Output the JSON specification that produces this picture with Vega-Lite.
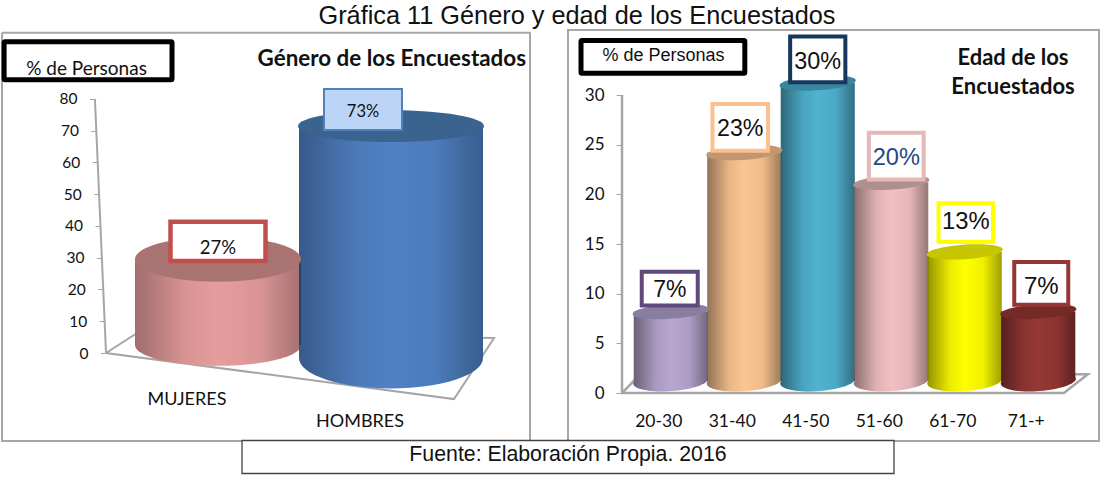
{"$schema":"https://vega.github.io/schema/vega-lite/v6.json","background":"white","padding":{"left":-2,"top":3,"right":0,"bottom":0},"spacing":-8,"title":{"text":"Gráfica 11 Género y edad de los Encuestados","font":"Liberation Sans","fontSize":25.3,"fontWeight":"normal","color":"#111","anchor":"middle","dx":28,"offset":0},"config":{"view":{"stroke":null},"axis":{"grid":false}},"datasets":{"genero":[{"genero":"MUJERES","valor":27,"etiqueta":"27%","cajaMin":29,"cajaMax":41.3,"textoY":33},{"genero":"HOMBRES","valor":73,"etiqueta":"73%","cajaMin":70.2,"cajaMax":83.1,"textoY":75.9}],"edad":[{"rango":"20-30","valor":7,"etiqueta":"7%","cajaMin":8.8,"cajaMax":12.2,"textoY":10.4},{"rango":"31-40","valor":23,"etiqueta":"23%","cajaMin":24.4,"cajaMax":29.1,"textoY":26.6},{"rango":"41-50","valor":30,"etiqueta":"30%","cajaMin":31.3,"cajaMax":35.9,"textoY":33.3},{"rango":"51-60","valor":20,"etiqueta":"20%","cajaMin":21.5,"cajaMax":26.2,"textoY":23.7},{"rango":"61-70","valor":13,"etiqueta":"13%","cajaMin":15.2,"cajaMax":19.1,"textoY":17.2},{"rango":"71-+","valor":7,"etiqueta":"7%","cajaMin":8.9,"cajaMax":13.2,"textoY":10.7}],"trazoGenero":[{"grupo":"marco","o":1,"u":0,"v":100.8},{"grupo":"marco","o":2,"u":100,"v":100.8},{"grupo":"marco","o":3,"u":100,"v":-27.7},{"grupo":"marco","o":4,"u":0,"v":-27.7},{"grupo":"marco","o":5,"u":0,"v":100.8},{"grupo":"suelo","o":1,"u":17.6,"v":80},{"grupo":"suelo","o":2,"u":19.7,"v":0},{"grupo":"suelo","o":3,"u":85.6,"v":-14.5},{"grupo":"suelo","o":4,"u":93.2,"v":4.7},{"grupo":"suelo","o":5,"u":25.6,"v":6.3},{"grupo":"suelo","o":6,"u":19.7,"v":0}],"trazoEdad":[{"grupo":"suelo","o":1,"u":10.17,"v":30},{"grupo":"suelo","o":2,"u":10.17,"v":0},{"grupo":"suelo","o":3,"u":93.4,"v":0},{"grupo":"suelo","o":4,"u":97.9,"v":1.9},{"grupo":"suelo","o":5,"u":13.6,"v":1.9},{"grupo":"suelo","o":6,"u":10.17,"v":0}],"rotuloGenero":[{"u":0.4,"u2":32.2,"v":98,"v2":86}],"rotuloEdad":[{"u":2.45,"u2":33.3,"v":35.5,"v2":32.2}],"fuente":[{"texto":"Fuente: Elaboración Propia. 2016"}]},"vconcat":[{"hconcat":[{"width":528,"height":411,"title":{"text":"Género de los Encuestados","anchor":"end","font":"Lato","fontSize":22.4,"fontWeight":"bold","color":"#111","dx":-8,"offset":-42},"resolve":{"scale":{"x":"independent"}},"layer":[{"data":{"name":"trazoGenero"},"mark":{"type":"line","color":"#a6a6a6","strokeWidth":2},"encoding":{"x":{"field":"u","type":"quantitative","axis":null,"scale":{"domain":[0,100],"nice":false,"zero":false}},"y":{"field":"v","type":"quantitative","title":"% de Personas","scale":{"domain":[-27.7,101.7],"nice":false,"zero":false},"axis":{"values":[0,10,20,30,40,50,60,70,80],"offset":-98,"domain":false,"zindex":1,"tickColor":"#a6a6a6","tickSize":5,"labelPadding":2,"labelFont":"Lato","labelFontSize":15.5,"labelColor":"#111","titleFont":"Lato","titleFontSize":19,"titleFontWeight":"normal","titleColor":"#111","titleAngle":0,"titleAlign":"center","titleBaseline":"middle","titleX":-14,"titleY":38,"encoding":{"labels":{"x":{"value":{"expr":"-12-0.1375*datum.value"}}},"ticks":{"x":{"value":{"expr":"6-0.1375*datum.value"}},"x2":{"value":{"expr":"0.5-0.1375*datum.value"}}}}}},"detail":{"field":"grupo"},"order":{"field":"o"}}},{"data":{"name":"rotuloGenero"},"mark":{"type":"rect","fill":"white","stroke":"black","strokeWidth":5,"cornerRadius":1},"encoding":{"x":{"field":"u","type":"quantitative","axis":null,"scale":{"domain":[0,100],"nice":false,"zero":false}},"x2":{"field":"u2"},"y":{"field":"v","type":"quantitative","scale":{"domain":[-27.7,101.7],"nice":false,"zero":false}},"y2":{"field":"v2"}}},{"data":{"name":"genero"},"resolve":{"scale":{"size":"independent","color":"independent","shape":"independent","stroke":"independent"}},"layer":[{"mark":{"type":"point","filled":true,"opacity":1,"xOffset":31,"yOffset":{"expr":"datum.genero=='HOMBRES'?5:-8"}},"encoding":{"x":{"field":"genero","type":"nominal","sort":null,"title":null,"scale":{"range":[98.5,444.5],"paddingInner":0,"paddingOuter":0},"axis":{"offset":-51,"domain":false,"ticks":false,"labelAngle":0,"labelPadding":0,"labelFont":"Lato","labelFontSize":18,"labelColor":"#111","labelLineHeight":22,"labelExpr":"datum.label=='HOMBRES'?['','HOMBRES']:datum.label"}},"y":{"datum":0,"type":"quantitative","scale":{"domain":[-27.7,101.7],"nice":false,"zero":false}},"color":{"field":"genero","type":"nominal","sort":null,"legend":null,"scale":{"range":["#e69c9c","#4f81c4"]}},"size":{"field":"genero","type":"ordinal","sort":null,"legend":null,"scale":{"range":[27556,33856]}},"shape":{"field":"genero","type":"nominal","sort":null,"legend":null,"scale":{"range":["M-1,0A1,.25 0 1 1 1,0A1,.25 0 1 1 -1,0Z","M-1,0A1,.33 0 1 1 1,0A1,.33 0 1 1 -1,0Z"]}}}},{"mark":{"type":"point","filled":true,"opacity":1,"xOffset":31,"yOffset":{"expr":"datum.genero=='HOMBRES'?5:-8"},"color":{"x1":0,"x2":1,"y1":0,"y2":0,"gradient":"linear","stops":[{"offset":0,"color":"rgba(0,0,0,0.3)"},{"offset":0.3,"color":"rgba(0,0,0,0.06)"},{"offset":0.5,"color":"rgba(0,0,0,0)"},{"offset":0.75,"color":"rgba(0,0,0,0.05)"},{"offset":1,"color":"rgba(0,0,0,0.28)"}]}},"encoding":{"x":{"field":"genero","type":"nominal","sort":null},"y":{"datum":0,"type":"quantitative","scale":{"domain":[-27.7,101.7],"nice":false,"zero":false}},"size":{"field":"genero","type":"ordinal","sort":null,"legend":null,"scale":{"range":[27556,33856]}},"shape":{"field":"genero","type":"nominal","sort":null,"legend":null,"scale":{"range":["M-1,0A1,.25 0 1 1 1,0A1,.25 0 1 1 -1,0Z","M-1,0A1,.33 0 1 1 1,0A1,.33 0 1 1 -1,0Z"]}}}},{"mark":{"type":"bar","xOffset":31,"yOffset":{"expr":"datum.genero=='HOMBRES'?5:-8"},"y2Offset":{"expr":"datum.genero=='HOMBRES'?5:-8"}},"encoding":{"x":{"field":"genero","type":"nominal","sort":null},"y":{"field":"valor","type":"quantitative","scale":{"domain":[-27.7,101.7],"nice":false,"zero":false}},"y2":{"datum":0},"color":{"field":"genero","type":"nominal","sort":null,"legend":null,"scale":{"range":["#e69c9c","#4f81c4"]}},"size":{"field":"genero","type":"ordinal","sort":null,"legend":null,"scale":{"range":[166,184]}}}},{"mark":{"type":"bar","xOffset":31,"yOffset":{"expr":"datum.genero=='HOMBRES'?5:-8"},"y2Offset":{"expr":"datum.genero=='HOMBRES'?5:-8"},"color":{"x1":0,"x2":1,"y1":0,"y2":0,"gradient":"linear","stops":[{"offset":0,"color":"rgba(0,0,0,0.3)"},{"offset":0.3,"color":"rgba(0,0,0,0.06)"},{"offset":0.5,"color":"rgba(0,0,0,0)"},{"offset":0.75,"color":"rgba(0,0,0,0.05)"},{"offset":1,"color":"rgba(0,0,0,0.28)"}]}},"encoding":{"x":{"field":"genero","type":"nominal","sort":null},"y":{"field":"valor","type":"quantitative","scale":{"domain":[-27.7,101.7],"nice":false,"zero":false}},"y2":{"datum":0},"size":{"field":"genero","type":"ordinal","sort":null,"legend":null,"scale":{"range":[166,184]}}}},{"mark":{"type":"point","filled":true,"opacity":1,"xOffset":31,"yOffset":{"expr":"datum.genero=='HOMBRES'?5:-8"}},"encoding":{"x":{"field":"genero","type":"nominal","sort":null},"y":{"field":"valor","type":"quantitative","scale":{"domain":[-27.7,101.7],"nice":false,"zero":false}},"color":{"field":"genero","type":"nominal","sort":null,"legend":null,"scale":{"range":["#a87370","#3b6390"]}},"size":{"field":"genero","type":"ordinal","sort":null,"legend":null,"scale":{"range":[27556,34596]}},"shape":{"field":"genero","type":"nominal","sort":null,"legend":null,"scale":{"range":["M-1,0A1,.27 0 1 1 1,0A1,.27 0 1 1 -1,0Z","M-1,0A1,.17 0 1 1 1,0A1,.17 0 1 1 -1,0Z"]}}}},{"mark":{"type":"bar","strokeWidth":{"expr":"datum.genero=='HOMBRES'?2:4.5"},"xOffset":{"expr":"datum.genero=='HOMBRES'?3:31"}},"encoding":{"x":{"field":"genero","type":"nominal","sort":null},"y":{"field":"cajaMin","type":"quantitative","scale":{"domain":[-27.7,101.7],"nice":false,"zero":false}},"y2":{"field":"cajaMax"},"color":{"field":"genero","type":"nominal","sort":null,"legend":null,"scale":{"range":["white","#bcd5f7"]}},"stroke":{"field":"genero","type":"nominal","sort":null,"legend":null,"scale":{"range":["#c0504d","#4f81bd"]}},"size":{"field":"genero","type":"ordinal","sort":null,"legend":null,"scale":{"range":[95,78]}}}},{"mark":{"type":"text","font":"Lato","color":"#111","baseline":"middle","xOffset":{"expr":"datum.genero=='HOMBRES'?3:31"}},"encoding":{"x":{"field":"genero","type":"nominal","sort":null},"y":{"field":"textoY","type":"quantitative","scale":{"domain":[-27.7,101.7],"nice":false,"zero":false}},"text":{"field":"etiqueta"},"size":{"field":"genero","type":"ordinal","sort":null,"legend":null,"scale":{"range":[18.5,16.5]}}}}]}]},{"width":531,"height":411,"view":{"stroke":"#a6a6a6","strokeWidth":2},"title":{"text":["Edad de los","Encuestados"],"anchor":"end","align":"center","font":"Lato","fontSize":22,"lineHeight":29,"fontWeight":"bold","color":"#111","dx":-86,"offset":-69},"resolve":{"scale":{"x":"independent"}},"layer":[{"data":{"name":"trazoEdad"},"mark":{"type":"line","color":"#a6a6a6","strokeWidth":2.5},"encoding":{"x":{"field":"u","type":"quantitative","axis":null,"scale":{"domain":[0,100],"nice":false,"zero":false}},"y":{"field":"v","type":"quantitative","title":"% de Personas","scale":{"domain":[-4.83,36.55],"nice":false,"zero":false},"axis":{"values":[0,5,10,15,20,25,30],"offset":-54,"domain":false,"zindex":1,"tickColor":"#a6a6a6","tickSize":6,"labelPadding":12,"labelFont":"Lato","labelFontSize":17,"labelColor":"#111","titleFont":"Liberation Sans","titleFontSize":18,"titleFontWeight":"normal","titleColor":"#111","titleAngle":0,"titleAlign":"center","titleBaseline":"middle","titleX":41,"titleY":25}},"detail":{"field":"grupo"},"order":{"field":"o"}}},{"data":{"name":"rotuloEdad"},"mark":{"type":"rect","fill":"white","stroke":"black","strokeWidth":5,"cornerRadius":1},"encoding":{"x":{"field":"u","type":"quantitative","axis":null,"scale":{"domain":[0,100],"nice":false,"zero":false}},"x2":{"field":"u2"},"y":{"field":"v","type":"quantitative","scale":{"domain":[-4.83,36.55],"nice":false,"zero":false}},"y2":{"field":"v2"}}},{"data":{"name":"edad"},"resolve":{"scale":{"size":"independent","color":"independent","stroke":"independent"}},"layer":[{"mark":{"type":"point","filled":true,"opacity":1,"size":5476,"shape":"M-1,0.02A1,.27 -4 1 1 1,-0.02A1,.27 -4 1 1 -1,0.02Z","xOffset":12,"yOffset":-12},"encoding":{"x":{"field":"rango","type":"nominal","sort":null,"title":null,"scale":{"range":[54,495],"paddingInner":0,"paddingOuter":0},"axis":{"offset":-30,"domain":false,"ticks":false,"labelAngle":0,"labelPadding":1,"labelFont":"Lato","labelFontSize":17.5,"labelColor":"#111"}},"y":{"datum":0,"type":"quantitative","scale":{"domain":[-4.83,36.55],"nice":false,"zero":false}},"color":{"field":"rango","type":"nominal","sort":null,"legend":null,"scale":{"range":["#b7a6cf","#fcc692","#4fb3d0","#f2c0c2","#ffff00","#953735"]}}}},{"mark":{"type":"point","filled":true,"opacity":1,"size":5476,"shape":"M-1,0.02A1,.27 -4 1 1 1,-0.02A1,.27 -4 1 1 -1,0.02Z","xOffset":12,"yOffset":-12,"color":{"x1":0,"x2":1,"y1":0,"y2":0,"gradient":"linear","stops":[{"offset":0,"color":"rgba(0,0,0,0.42)"},{"offset":0.3,"color":"rgba(0,0,0,0.08)"},{"offset":0.5,"color":"rgba(0,0,0,0)"},{"offset":0.75,"color":"rgba(0,0,0,0.06)"},{"offset":1,"color":"rgba(0,0,0,0.38)"}]}},"encoding":{"x":{"field":"rango","type":"nominal","sort":null},"y":{"datum":0,"type":"quantitative","scale":{"domain":[-4.83,36.55],"nice":false,"zero":false}}}},{"mark":{"type":"bar","size":74,"xOffset":12,"yOffset":-12,"y2Offset":-12},"encoding":{"x":{"field":"rango","type":"nominal","sort":null},"y":{"field":"valor","type":"quantitative","scale":{"domain":[-4.83,36.55],"nice":false,"zero":false}},"y2":{"datum":0},"color":{"field":"rango","type":"nominal","sort":null,"legend":null,"scale":{"range":["#b7a6cf","#fcc692","#4fb3d0","#f2c0c2","#ffff00","#953735"]}}}},{"mark":{"type":"bar","size":74,"xOffset":12,"yOffset":-12,"y2Offset":-12,"color":{"x1":0,"x2":1,"y1":0,"y2":0,"gradient":"linear","stops":[{"offset":0,"color":"rgba(0,0,0,0.42)"},{"offset":0.3,"color":"rgba(0,0,0,0.08)"},{"offset":0.5,"color":"rgba(0,0,0,0)"},{"offset":0.75,"color":"rgba(0,0,0,0.06)"},{"offset":1,"color":"rgba(0,0,0,0.38)"}]}},"encoding":{"x":{"field":"rango","type":"nominal","sort":null},"y":{"field":"valor","type":"quantitative","scale":{"domain":[-4.83,36.55],"nice":false,"zero":false}},"y2":{"datum":0}}},{"mark":{"type":"point","filled":true,"opacity":1,"size":5476,"shape":"M-1,0.02A1,.19 -4 1 1 1,-0.02A1,.19 -4 1 1 -1,0.02Z","xOffset":12,"yOffset":-12},"encoding":{"x":{"field":"rango","type":"nominal","sort":null},"y":{"field":"valor","type":"quantitative","scale":{"domain":[-4.83,36.55],"nice":false,"zero":false}},"color":{"field":"rango","type":"nominal","sort":null,"legend":null,"scale":{"range":["#8a7ea0","#c2966f","#38869e","#af8f8f","#c6c600","#752a28"]}}}},{"mark":{"type":"bar","fill":"white","strokeWidth":4,"xOffset":{"expr":"{'20-30':11,'31-40':8,'41-50':12,'51-60':17,'61-70':13,'71-+':15}[datum.rango]"}},"encoding":{"x":{"field":"rango","type":"nominal","sort":null},"y":{"field":"cajaMin","type":"quantitative","scale":{"domain":[-4.83,36.55],"nice":false,"zero":false}},"y2":{"field":"cajaMax"},"stroke":{"field":"rango","type":"nominal","sort":null,"legend":null,"scale":{"range":["#604a7b","#fac090","#17375e","#e6b9b8","#ffff00","#953735"]}},"size":{"field":"rango","type":"ordinal","sort":null,"legend":null,"scale":{"range":[56,54,62,70,79,55]}}}},{"mark":{"type":"text","font":"Liberation Sans","baseline":"middle","xOffset":{"expr":"{'20-30':11,'31-40':8,'41-50':12,'51-60':17,'61-70':13,'71-+':15}[datum.rango]"}},"encoding":{"x":{"field":"rango","type":"nominal","sort":null},"y":{"field":"textoY","type":"quantitative","scale":{"domain":[-4.83,36.55],"nice":false,"zero":false}},"text":{"field":"etiqueta"},"color":{"field":"rango","type":"nominal","sort":null,"legend":null,"scale":{"range":["#111","#111","#111","#1f497d","#111","#111"]}},"size":{"field":"rango","type":"ordinal","sort":null,"legend":null,"scale":{"range":[23,24,20,24,23,20]}}}}]}]}],"spacing":38,"bounds":"flush"},{"width":1098,"height":26,"data":{"name":"fuente"},"layer":[{"mark":{"type":"point","filled":true,"fill":"white","stroke":"#444","strokeWidth":1.3,"opacity":1,"size":425104,"shape":"M-1,-0.0506H1V0.0506H-1Z","xOffset":17,"yOffset":-1},"encoding":{}},{"mark":{"type":"text","font":"Liberation Sans","fontSize":21.3,"color":"#111","xOffset":17,"yOffset":-3},"encoding":{"text":{"field":"texto"}}}]}]}
